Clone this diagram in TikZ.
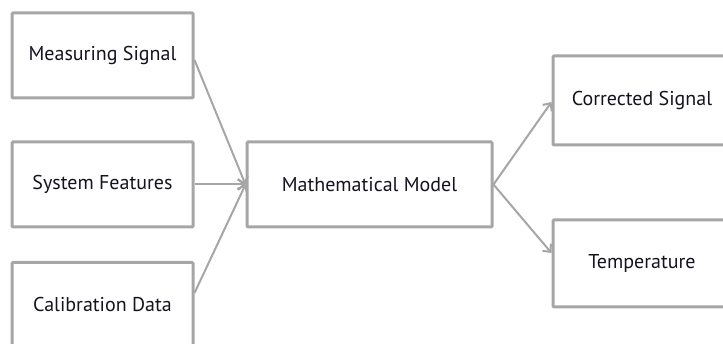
\documentclass[tikz,border=0pt]{standalone}
\usepackage{fontspec}
\setmainfont{PT Sans}
\usetikzlibrary{arrows.meta,calc}
\definecolor{edgegray}{HTML}{A6A6A6}
\definecolor{txt}{HTML}{141420}
\begin{document}
\begin{tikzpicture}[x=1pt,y=-1pt,
  box/.style={draw=edgegray,line width=3pt,rounded corners=1pt,fill=white,
    minimum width=181pt,minimum height=85pt,inner sep=0pt,font=\fontsize{20}{22}\selectfont,text=txt},
  conn/.style={draw=edgegray,line width=2pt,-{Straight Barb[length=6pt,width=11pt,line width=2pt]}}]
\useasboundingbox (0,0) rectangle (723,344);
\clip (0,0) rectangle (723,344);
\node[box] (ms) at (102.5,55.5) {Measuring Signal};
\node[box] (sf) at (102.5,184.5) {System Features};
\node[box] (cd) at (102.5,305) {Calibration Data};
\node[box,minimum width=245pt] (mm) at (369.5,184.5) {Mathematical Model};
\node[box,minimum width=178pt,minimum height=89pt] (cs) at (642,100.5) {Corrected Signal};
\node[box,minimum width=178pt,minimum height=87pt] (tp) at (642,263.5) {Temperature};
\draw[conn] ($(ms.east)+(0,4.5)$) -- (mm.west);
\draw[conn] (sf.east) -- (mm.west);
\draw[conn] ($(cd.east)+(0,-12)$) -- (mm.west);
\draw[conn] (mm.east) -- ($(cs.west)+(0,1.5)$);
\draw[conn] (mm.east) -- ($(tp.west)+(0,-10.5)$);
\end{tikzpicture}
\end{document}
